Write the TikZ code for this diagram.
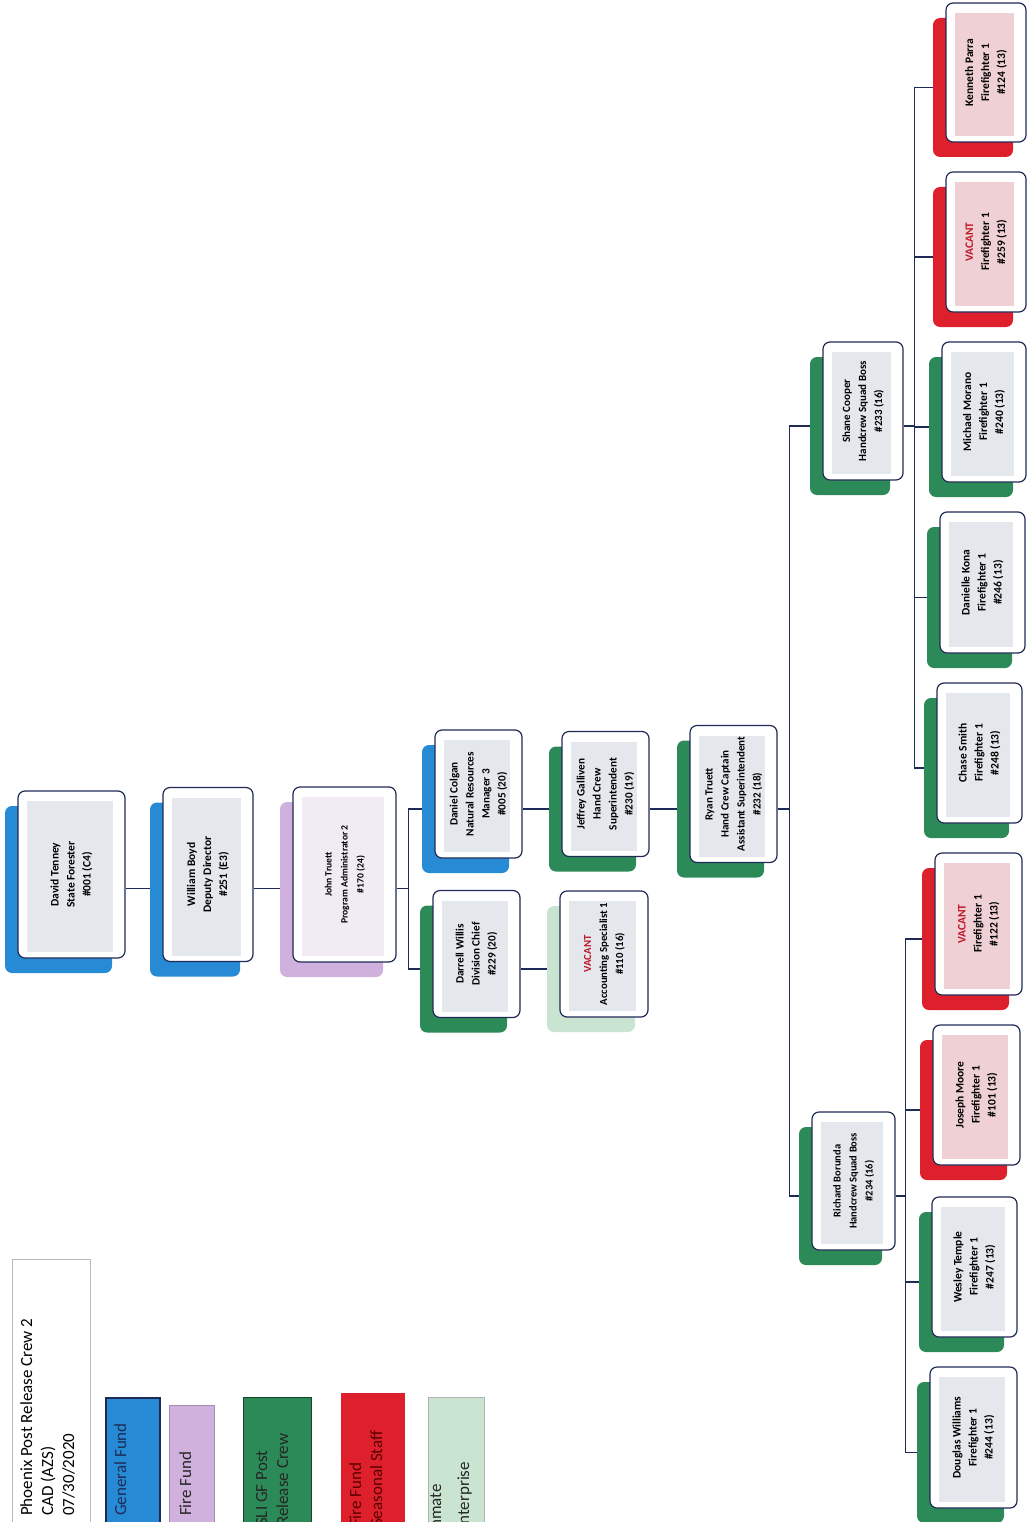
\documentclass[tikz,border=0pt]{standalone}
\usepackage{fontspec}
\setmainfont{Carlito}
\usepackage{graphicx}
\usepackage{tikz}
\usetikzlibrary{positioning,shadows,backgrounds}
\definecolor{boxnavy}{RGB}{32,42,86}
\definecolor{genfund}{RGB}{38,138,212}
\definecolor{firefund}{RGB}{208,176,220}
\definecolor{sligreen}{RGB}{44,138,88}
\definecolor{seasonred}{RGB}{222,32,44}
\definecolor{inmategreen}{RGB}{202,228,210}
\definecolor{tintgray}{RGB}{228,231,235}
\definecolor{tintlav}{RGB}{241,236,243}
\definecolor{tintpink}{RGB}{238,208,213}
\definecolor{vacred}{RGB}{192,24,40}
\newcommand{\cardtext}[2]{\rotatebox{90}{\fontsize{#1}{16}\selectfont\bfseries\begin{tabular}{@{}c@{}}#2\end{tabular}}}
\newcommand{\vac}{\textcolor{vacred}{VACANT}}
\tikzset{
  card/.style={draw=boxnavy, line width=1.2pt, rounded corners=7pt, fill=white, inner sep=0pt,
    path picture={\fill[#1, sharp corners] ([shift={(9pt,-10pt)}]path picture bounding box.north west) rectangle ([shift={(-12pt,6pt)}]path picture bounding box.south east);}},
  back/.style={drop shadow={shadow xshift=-13pt, shadow yshift=-15pt, opacity=1, fill=#1}},
  gf/.style={card=tintgray, back=genfund},
  ff/.style={card=tintlav, back=firefund},
  sli/.style={card=tintgray, back=sligreen},
  season/.style={card=tintpink, back=seasonred},
  inmate/.style={card=tintgray, back=inmategreen},
  link/.style={draw=boxnavy, line width=1.3pt},
  key/.style={rectangle, inner sep=0pt, anchor=north west},
  legtext/.style={rotate=90, anchor=north west, inner sep=0pt, align=left, font=\fontsize{17}{21}\selectfont}
}
\begin{document}
\begin{tikzpicture}[x=1pt,y=-1pt]
   		\useasboundingbox (0,0) rectangle (1028,1522);
   		\clip (0,0) rectangle (1028,1522);
   		% management chain
   		\node[gf, minimum width=107pt, minimum height=167pt] (tenney)  at (71.5,874.5) {\cardtext{11.5}{David Tenney\\State Forester\\\#001 (C4)}};
   		\node[gf, minimum width=90pt,  minimum height=174pt] (boyd)    at (208,874.5)  {\cardtext{11.5}{William Boyd\\Deputy Director\\\#251 (E3)}};
   		\node[ff, minimum width=103pt, minimum height=175pt] (jtruett) at (344.5,874.5) {\cardtext{9.6}{John Truett\\Program Administrator 2\\\#170 (24)}};
   		\node[gf, minimum width=87pt,  minimum height=128pt] (colgan)  at (478.5,794) {\cardtext{11.2}{Daniel Colgan\\Natural Resources\\Manager 3\\\#005 (20)}};
   		\node[sli, minimum width=87pt, minimum height=127pt] (willis)  at (476.5,954) {\cardtext{11.2}{Darrell Willis\\Division Chief\\\#229 (20)}};
   		\node[sli, minimum width=87pt, minimum height=125pt] (galliven) at (605.5,794) {\cardtext{11.2}{Jeffrey Galliven\\Hand Crew\\Superintendent\\\#230 (19)}};
   		\node[inmate, minimum width=88pt, minimum height=126pt] (acct) at (604,954) {\cardtext{10.8}{\vac\\Accounting Specialist 1\\\#110 (16)}};
   		\node[sli, minimum width=87pt, minimum height=137pt] (rtruett) at (733.5,794) {\cardtext{11}{Ryan Truett\\Hand Crew Captain\\Assistant Superintendent\\\#232 (18)}};
   		% squad bosses
   		\node[sli, minimum width=80pt, minimum height=138pt] (cooper)  at (863,411)    {\cardtext{11}{Shane Cooper\\Handcrew Squad Boss\\\#233 (16)}};
   		\node[sli, minimum width=83pt, minimum height=138pt] (borunda) at (853.5,1181) {\cardtext{10.5}{Richard Borunda\\Handcrew Squad Boss\\\#234 (16)}};
   		% firefighters
   		\node[season, minimum width=80pt, minimum height=139pt] (parra)  at (986,72.5)  {\cardtext{11.5}{Kenneth Parra\\Firefighter 1\\\#124 (13)}};
   		\node[season, minimum width=80pt, minimum height=140pt] (vac259) at (986,242)   {\cardtext{11.5}{\vac\\Firefighter 1\\\#259 (13)}};
   		\node[sli, minimum width=84pt, minimum height=140pt] (morano)    at (984,412)   {\cardtext{11.5}{Michael Morano\\Firefighter 1\\\#240 (13)}};
   		\node[sli, minimum width=85pt, minimum height=141pt] (kona)      at (982.5,582.5) {\cardtext{11.5}{Danielle Kona\\Firefighter 1\\\#246 (13)}};
   		\node[sli, minimum width=85pt, minimum height=140pt] (csmith)    at (979.5,753) {\cardtext{11.5}{Chase Smith\\Firefighter 1\\\#248 (13)}};
   		\node[season, minimum width=87pt, minimum height=142pt] (vac122) at (978.5,924) {\cardtext{11.5}{\vac\\Firefighter 1\\\#122 (13)}};
   		\node[season, minimum width=87pt, minimum height=140pt] (moore)  at (976.5,1095) {\cardtext{11.5}{Joseph Moore\\Firefighter 1\\\#101 (13)}};
   		\node[sli, minimum width=85pt, minimum height=140pt] (temple)    at (974.5,1267) {\cardtext{11.5}{Wesley Temple\\Firefighter 1\\\#247 (13)}};
   		\node[sli, minimum width=87pt, minimum height=141pt] (dwilliams) at (973.5,1437.5) {\cardtext{11.5}{Douglas Williams\\Firefighter 1\\\#244 (13)}};
   		% connectors behind the cards
   		\begin{scope}[on background layer]
   		\draw[link] ([yshift=-14pt]tenney.east) -- ([yshift=-14pt]boyd.west);
   		\draw[link] ([yshift=-14pt]boyd.east) -- ([yshift=-14pt]jtruett.west);
   		\draw[link] ([yshift=-14pt]jtruett.east) -- ++(12,0) coordinate (jfork) |- ([yshift=-15pt]colgan.west);
   		\draw[link] (jfork) |- ([yshift=-15pt]willis.west);
   		\draw[link] ([yshift=-15pt]colgan.east) -- ([yshift=-15pt]galliven.west);
   		\draw[link] ([yshift=-15pt]galliven.east) -- ([yshift=-15pt]rtruett.west);
   		\draw[link] ([yshift=-15pt]willis.east) -- ([yshift=-15pt]acct.west);
   		\draw[link] ([yshift=-15pt]rtruett.east) -- ++(12,0) coordinate (rfork) |- ([yshift=-15pt]cooper.west);
   		\draw[link] (rfork) |- ([yshift=-15pt]borunda.west);
   		\draw[link] ([yshift=-15pt]cooper.east) -- ++(11,0) coordinate (cfork);
   		\foreach \crew in {parra,vac259,morano,kona,csmith}
   		  \draw[link] (cfork) |- ([yshift=-15pt]\crew.west);
   		\draw[link] ([yshift=-15pt]borunda.east) -- ++(10,0) coordinate (bfork);
   		\foreach \crew in {vac122,moore,temple,dwilliams}
   		  \draw[link] (bfork) |- ([yshift=-15pt]\crew.west);
   		\end{scope}
   		% legend
   		\node[key, draw=gray!55, line width=.5pt, minimum width=78pt, minimum height=290pt] (title) at (12,1259) {};
   		\node[legtext] (title-t) at (20,1516) {Phoenix Post Release Crew 2\\CAD (AZS)\\07/30/2020};
   		\node[key, fill=genfund, draw=boxnavy, line width=1.5pt, minimum width=54pt, minimum height=150pt] (kgen) at (105,1397) {};
   		\node[legtext, text=boxnavy] (kgen-t) at (114,1516) {General Fund};
   		\node[key, fill=firefund, draw=firefund!80!black, line width=.6pt, minimum width=45pt, minimum height=150pt] (kfire) at (169,1405) {};
   		\node[legtext, text=black!85] (kfire-t) at (179,1516) {Fire Fund};
   		\node[key, fill=sligreen, draw=sligreen!50!black, line width=1.2pt, minimum width=68pt, minimum height=150pt] (ksli) at (243,1397) {};
   		\node[legtext, text=black!85] (ksli-t) at (256,1526) {SLI GF Post\\Release Crew};
   		\node[key, fill=seasonred, minimum width=64pt, minimum height=150pt] (kseason) at (341,1393) {};
   		\node[legtext, text=red!35!black] (kseason-t) at (349,1527) {Fire Fund\\Seasonal Staff};
   		\node[key, fill=inmategreen, draw=gray!60, line width=.5pt, minimum width=56pt, minimum height=150pt] (kinmate) at (428,1397) {};
   		\node[legtext, text=black!85, font=\fontsize{17}{28}\selectfont] (kinmate-t) at (430,1533) {Inmate\\Enterprise};
\end{tikzpicture}
\end{document}
